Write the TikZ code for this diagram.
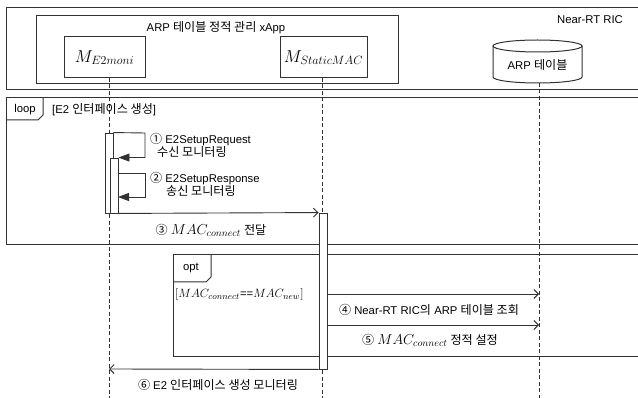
\documentclass[tikz,border=0pt]{standalone}
\usepackage{fontspec}
\setmainfont{Liberation Sans}
\newfontfamily\kr[Scale=1.07]{Noto Sans CJK KR}
\usetikzlibrary{arrows.meta}
\definecolor{lc}{RGB}{50,50,50}
\newcommand{\mth}[1]{{\fontsize{14.5}{16}\selectfont$#1$}}
\newcommand{\mcd}[1]{{\fontsize{13}{15}\selectfont$#1$}}
\newcommand{\mbx}[1]{{\fontsize{17}{19}\selectfont$#1$}}
\tikzset{
  frm/.style={draw=lc, line width=1pt},
  boxnode/.style={draw=lc, line width=1pt, inner sep=0pt},
  life/.style={draw=lc, line width=1pt, dash pattern=on 4pt off 2.5pt},
  barnode/.style={draw=lc, fill=white, line width=0.9pt, inner sep=0pt, minimum width=8pt},
  msg/.style={draw=lc, line width=0.9pt, -{Straight Barb[length=4.5pt,width=9pt]}},
  selfmsg/.style={draw=lc, line width=0.9pt, -{Triangle[length=11pt,width=8pt]}},
  lbl/.style={inner sep=0pt, anchor=center}
}
\begin{document}
\begin{tikzpicture}[x=1pt,y=-1pt,font=\fontsize{11.3}{13.5}\selectfont]
\useasboundingbox (0,0) rectangle (638,398);
\clip (0,0) rectangle (638,398);
\fill[white] (0,0) rectangle (638,398);
% Near-RT RIC
\draw[frm] (6,8) rectangle (660,90);
\node[lbl] (ric) at (590,20) {Near-RT RIC};
% xApp
\draw[frm] (36,16) rectangle (398,84);
\node[lbl] (xapp) at (216,28) {ARP {\kr 테이블 정적 관리} xApp};
\node[boxnode, minimum width=81pt, minimum height=41pt] (me2) at (104.5,57.5) {\mbx{M_{E2moni}}};
\node[boxnode, minimum width=87pt, minimum height=41pt] (mst) at (323.5,57.5) {\mbx{M_{StaticMAC}}};
% ARP table cylinder
\draw[frm] (537.5,46) ellipse [x radius=44.5, y radius=6];
\draw[frm] (493,46) -- (493,77) arc [start angle=180, end angle=0, x radius=44.5, y radius=6] -- (582,46);
\node[lbl] (arp) at (537.5,65) {ARP {\kr 테이블}};
% lifelines
\coordinate (l1) at (109,78);
\coordinate (l1e) at (109,400);
\coordinate (l2) at (322,78);
\coordinate (l2e) at (322,400);
\coordinate (l3) at (539,83);
\coordinate (l3e) at (539,400);
\draw[life] (l1) -- (l1e);
\draw[life] (l2) -- (l2e);
\draw[life] (l3) -- (l3e);
% loop frame
\draw[frm] (6,98) rectangle (660,245);
\draw[frm] (6,120) -- (38,120) -- (43,115) -- (43,98);
\node[lbl] (looplbl) at (25,110) {loop};
\node[lbl, anchor=west] (loopcond) at (52,110) {[E2 {\kr 인터페이스 생성}]};
% opt frame
\draw[frm] (173,255) rectangle (660,357);
\draw[frm] (173,282) -- (206,282) -- (211,277) -- (211,255);
\node[lbl] (optlbl) at (191,268) {opt};
\node[lbl, anchor=west] (optcond) at (175,295) {\mcd{[MAC_{connect}}==\mcd{MAC_{new}]}};
% activation bars
\node[barnode, minimum height=80pt] (b1) at (109,173) {};
\node[barnode, minimum height=55pt] (b2) at (114,185.5) {};
\node[barnode, minimum height=156pt] (b3) at (323,291) {};
% self messages
\coordinate (s1) at (145,133);
\draw[selfmsg] (b1.north east) -- (s1) |- (b2.north east);
\coordinate (s2b) at (145,173);
\coordinate (s2c) at (118,197);
\draw[selfmsg] (b2.east |- s2b) -- (s2b) |- (s2c);
\node[lbl, anchor=west, align=left] (t1) at (150,145.5) {{\kr ①} E2SetupRequest\\\hspace*{7pt}{\kr 수신 모니터링}};
\node[lbl, anchor=west, align=left] (t2) at (150,184.5) {{\kr ②} E2SetupResponse\\\hspace*{16pt}{\kr 송신 모니터링}};
% message 3
\draw[msg] (b2.south east) -- (b3.north west);
\node[lbl] (t3) at (211,230) {{\kr ③} \mth{MAC_{connect}} {\kr 전달}};
% message 4
\coordinate (m4e) at (539,294);
\draw[msg] (b3.east |- m4e) -- (m4e);
\node[lbl] (t4) at (429,310) {{\kr ④} Near-RT RIC{\kr 의} ARP {\kr 테이블 조회}};
% message 5
\coordinate (m5e) at (539,325);
\draw[msg] (b3.east |- m5e) -- (m5e);
\node[lbl] (t5) at (430,340) {{\kr ⑤} \mth{MAC_{connect}} {\kr 정적 설정}};
% message 6
\coordinate (m6e) at (109,369);
\draw[msg] (b3.south west) -- (m6e);
\node[lbl] (t6) at (218,385) {{\kr ⑥} E2 {\kr 인터페이스 생성 모니터링}};
\end{tikzpicture}
\end{document}
